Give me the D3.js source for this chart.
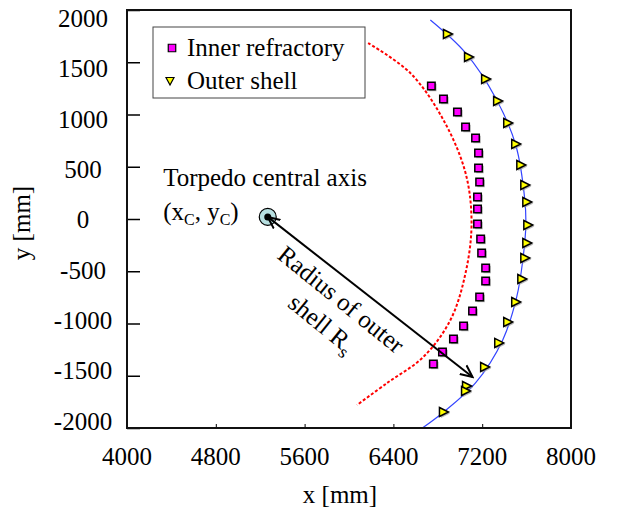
<!DOCTYPE html>
<html lang="en">
<head>
<meta charset="utf-8"/>
<title>Torpedo shell profile</title>
<script src="https://d3js.org/d3.v7.min.js"></script>
<style>
body { margin: 0; background: #fff; }
text { font-family: "Liberation Serif", "Times New Roman", serif; fill: #000; }
</style>
</head>
<body>
<svg id="chart" width="617" height="510"></svg>

<script>
// measured points, mm
const innerX = [6742, 6851, 6977, 7050, 7140, 7167, 7167, 7177, 7158, 7158, 7158,
                7186, 7195, 7231, 7231, 7177, 7113, 7032, 6941, 6842, 6760]
const innerY = [1273, 1148, 1024, 880, 775, 632, 488, 354, 211, 96, -48,
                -191, -325, -469, -593, -746, -880, -1024, -1148, -1273, -1387]
const outerX = [6887, 7077, 7231, 7339, 7430, 7502, 7548, 7584, 7602, 7611,
                7602, 7584, 7557, 7502, 7430, 7349, 7222, 7059, 7050, 6851]
const outerY = [1770, 1550, 1340, 1129, 919, 718, 517, 325, 163, -57,
                -230, -373, -574, -794, -986, -1186, -1416, -1598, -1646, -1847]

// fitted outer shell (blue) and refractory face (red dashed)
const fitX = [6733, 7050, 7321, 7502, 7584, 7593, 7566, 7511, 7385, 7140, 6842, 6661]
const fitY = [1904, 1589, 1158, 708, 182, -57, -392, -746, -1158, -1569, -1856, -2000]
const refX = [6172, 6552, 6851, 7050, 7104, 7050, 6914, 6670, 6344, 6072]
const refY = [1684, 1397, 947, 440, -38, -517, -966, -1320, -1569, -1780]

const centre = [5268, 20]
const arrowEnd = [7113, -1512]

const xTicks = [4000, 4800, 5600, 6400, 7200, 8000]
const yTicks = [-2000, -1500, -1000, -500, 0, 500, 1000, 1500, 2000]
const legendLabels = ["Inner refractory", "Outer shell"]

const svg = d3.select("#chart")
const L = 127, R = 571, T = 10, B = 428
const x = d3.scaleLinear().domain([4000, 8000]).range([L, R])
const y = d3.scaleLinear().domain([-2000, 2000]).range([B, T])
// the tick labels sit a little off their ticks in the original
const yLab = d3.scaleLinear().domain([-2000, 2000]).range([421, 18])

const fs = 25

// axes, ticks pointing inwards
svg.append("g").attr("transform", `translate(${L},0)`)
  .call(d3.axisLeft(y).tickValues(yTicks).tickSize(-13).tickFormat(""))
  .call(g => g.select(".domain").remove())
  .selectAll("line").attr("stroke", "#000").attr("stroke-width", 1.5)
svg.append("g").attr("transform", `translate(0,${B})`)
  .call(d3.axisBottom(x).tickValues(xTicks).tickSize(-4).tickFormat(""))
  .call(g => g.select(".domain").remove())
  .selectAll("line").attr("stroke", "#000").attr("stroke-width", 1)

svg.selectAll(".ylab").data(yTicks).join("text")
  .attr("x", 83).attr("y", d => yLab(d)).attr("dy", "0.35em")
  .attr("text-anchor", "middle").attr("font-size", fs).text(d => d)
svg.selectAll(".xlab").data(xTicks).join("text")
  .attr("x", d => x(d)).attr("y", 465)
  .attr("text-anchor", "middle").attr("font-size", fs).text(d => d)

svg.append("text").attr("x", (L + R) / 2 - 9).attr("y", 503)
  .attr("text-anchor", "middle").attr("font-size", fs).text("x [mm]")
svg.append("text").attr("transform", `translate(30,${(T + B) / 2 + 4}) rotate(-90)`)
  .attr("text-anchor", "middle").attr("font-size", fs).text("y [mm]")

const plot = svg.append("g")
const smooth = d3.line().curve(d3.curveCatmullRom.alpha(0.5))

// red dashed refractory face
plot.append("path")
  .attr("d", smooth(refX.map((v, i) => [x(v), y(refY[i])])))
  .attr("fill", "none").attr("stroke", "#ff0000").attr("stroke-width", 2)
  .attr("stroke-dasharray", "3,2")

// blue outer shell fit
plot.append("path")
  .attr("d", smooth(fitX.map((v, i) => [x(v), y(fitY[i])])))
  .attr("fill", "none").attr("stroke", "#3344ff").attr("stroke-width", 1.2)

const sq = d3.symbol().type(d3.symbolSquare).size(56)
const tri = "M-4,-4.5 L5,0 L-4,4.5 Z"

function markers(xs, ys, path, fill) {
  const pts = xs.map((v, i) => [x(v), y(ys[i])])
  plot.append("g").selectAll("path").data(pts).join("path")
    .attr("d", path).attr("fill", "#999").attr("opacity", 0.7)
    .attr("transform", d => `translate(${d[0] + 1.5},${d[1] + 1.5})`)
  plot.append("g").selectAll("path").data(pts).join("path")
    .attr("d", path).attr("fill", fill).attr("stroke", "#000").attr("stroke-width", 1.5)
    .attr("transform", d => `translate(${d[0]},${d[1]})`)
}
markers(innerX, innerY, sq(), "#ff00ff")
markers(outerX, outerY, tri, "#ffff00")

// central axis mark
plot.append("circle").attr("cx", x(centre[0])).attr("cy", y(centre[1])).attr("r", 8.5)
  .attr("fill", "#b7dfe0").attr("stroke", "#000").attr("stroke-width", 1.2)
plot.append("circle").attr("cx", x(centre[0])).attr("cy", y(centre[1])).attr("r", 3.5)
  .attr("fill", "#000")

// double-headed radius arrow with open heads
svg.append("defs").append("marker").attr("id", "head")
  .attr("viewBox", "-12 -7 14 14").attr("refX", 0).attr("refY", 0)
  .attr("markerWidth", 14).attr("markerHeight", 14).attr("markerUnits", "userSpaceOnUse")
  .attr("orient", "auto-start-reverse")
  .append("path").attr("d", "M-12,-5.5 L0,0 L-12,5.5")
  .attr("fill", "none").attr("stroke", "#000").attr("stroke-width", 2)
plot.append("line")
  .attr("x1", x(centre[0])).attr("y1", y(centre[1]))
  .attr("x2", x(arrowEnd[0])).attr("y2", y(arrowEnd[1]))
  .attr("stroke", "#000").attr("stroke-width", 2)
  .attr("marker-start", "url(#head)").attr("marker-end", "url(#head)")

// annotations
svg.append("text").attr("x", x(4326)).attr("y", y(316)).attr("font-size", fs)
  .text("Torpedo central axis")
const xc = svg.append("text").attr("x", x(4326)).attr("y", y(-10)).attr("font-size", fs)
xc.append("tspan").text("(x")
xc.append("tspan").attr("font-size", 16).attr("dy", 5).text("C")
xc.append("tspan").attr("dy", -5).text(", y")
xc.append("tspan").attr("font-size", 16).attr("dy", 5).text("C")
xc.append("tspan").attr("dy", -5).text(")")

const ang = Math.atan2(y(arrowEnd[1]) - y(centre[1]), x(arrowEnd[0]) - x(centre[0])) * 180 / Math.PI
const rl = svg.append("g").attr("transform", `translate(${x(5882)},${y(-832)}) rotate(${ang + 1})`)
rl.append("text").attr("text-anchor", "middle").attr("font-size", fs).text("Radius of outer")
const rs = rl.append("text").attr("y", 31).attr("text-anchor", "middle").attr("font-size", fs)
rs.append("tspan").text("shell R")
rs.append("tspan").attr("font-size", 18).attr("dy", 6).text("s")

// frame
svg.append("rect").attr("x", L).attr("y", T).attr("width", R - L).attr("height", B - T)
  .attr("fill", "none").attr("stroke", "#111").attr("stroke-width", 2)

// legend
const lg = svg.append("g").attr("transform", "translate(153,27)")
lg.append("rect").attr("width", 212).attr("height", 71)
  .attr("fill", "#fff").attr("stroke", "#444").attr("stroke-width", 1)
lg.append("path").attr("d", sq()).attr("transform", "translate(19,21)")
  .attr("fill", "#ff00ff").attr("stroke", "#000").attr("stroke-width", 1.2)
lg.append("path").attr("d", "M-4,-3.5 L4,-3.5 L0,4 Z").attr("transform", "translate(17,54)")
  .attr("fill", "#ffff00").attr("stroke", "#000").attr("stroke-width", 1.2)
lg.selectAll(".lt").data(legendLabels).join("text")
  .attr("x", 34).attr("y", (d, i) => 29 + i * 33).attr("font-size", fs).text(d => d)
</script>
</body>
</html>
